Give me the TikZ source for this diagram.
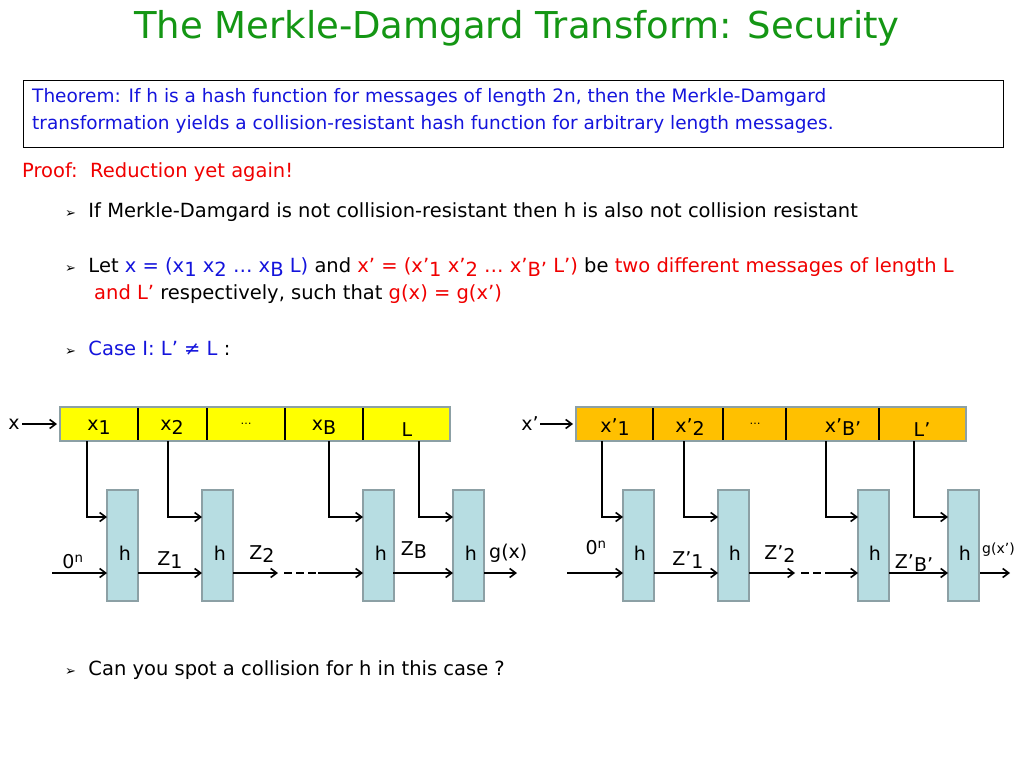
\documentclass[tikz,border=0pt]{standalone}
\usepackage{fontspec}
\setmainfont{DejaVu Sans}
\newfontfamily\symf{DejaVu Sans}
\usetikzlibrary{arrows.meta}
\definecolor{tgreen}{RGB}{20,150,20}
\definecolor{tblue}{RGB}{20,20,220}
\definecolor{tred}{RGB}{240,0,0}
\definecolor{hfill}{RGB}{183,221,226}
\definecolor{hdraw}{RGB}{140,160,165}
\definecolor{yelbar}{RGB}{255,255,0}
\definecolor{orbar}{RGB}{255,192,0}
\newcommand{\lo}[1]{\raisebox{-0.35ex}{#1}}
\newcommand{\bul}{{\symf\fontsize{13}{13}\selectfont ➢}}
\begin{document}
\begin{tikzpicture}[x=1pt,y=-1pt,
 hbox/.style={fill=hfill,draw=hdraw,line width=1.5pt},
 cell/.style={draw=hdraw,line width=1.5pt},
 arr/.style={-{Straight Barb[length=6pt,width=9pt]},line width=1.6pt},
 lab/.style={font=\fontsize{19}{19}\selectfont,inner sep=0pt},
 txt/.style={font=\fontsize{19.5}{26}\selectfont,anchor=west,inner sep=0pt}]
\useasboundingbox (0,0) rectangle (1024,768);
\node[font=\fontsize{37}{37}\selectfont,text=tgreen] (title) at (517,28) {The Merkle-Damgard Transform: Security};
\draw[line width=0.8pt] (23,80) rectangle (1003,147);
\node[txt,text=tblue,align=left,anchor=north west,font=\fontsize{18.5}{27}\selectfont] (thm) at (32,88) {Theorem: If h is a hash function for messages of length 2n, then the Merkle-Damgard\\transformation yields a collision-resistant hash function for arbitrary length messages.};
\node[txt,text=tred] (proof) at (22,172) {Proof:\ \ Reduction yet again!};
\node[txt] (b1) at (65,212) {\bul\ \ If Merkle-Damgard is not collision-resistant then h is also not collision resistant};
\node[txt] (b2) at (65,267) {\bul\ \ Let \textcolor{tblue}{x = (x\lo{1} x\lo{2} … x\lo{B} L)} and \textcolor{tred}{x’ = (x’\lo{1} x’\lo{2} … x’\lo{B’} L’)} be \textcolor{tred}{two different messages of length L}};
\node[txt] (b2b) at (94,294) {\textcolor{tred}{and L’} respectively, such that \textcolor{tred}{g(x) = g(x’)}};
\node[txt] (b3) at (65,348) {\bul\ \ \textcolor{tblue}{Case I: L’ {\symf ≠} L} :};
\node[txt] (b4) at (65,670) {\bul\ \ Can you spot a collision for h in this case ?};
% left
\fill[yelbar] (60,407) rectangle (450,441);
\draw[cell] (60,407) rectangle (450,441);
\foreach \d in {138,207,285,363} \draw[line width=2pt] (\d,408)--(\d,440);
\node[lab] (x1) at (99,427) {x\lo{1}};
\node[lab] (x2) at (172,427) {x\lo{2}};
\node[lab] (xd) at (246,424) {\fontsize{11}{11}\selectfont …};
\node[lab] (xB) at (324,427) {x\lo{B}};
\node[lab] (xL) at (407,430) {L};
\node[lab] (xin) at (14,424) {x};
\draw[arr] (22,424)--(57,424);
\foreach \a in {107,202,363,453} {\draw[hbox] (\a,490) rectangle +(31,111); \node[lab] at (\a+18,553) {h};}
\foreach \v/\a in {87/107,168/202,329/363,419/453} \draw[arr] (\v,441)--(\v,517)--(\a,517);
\draw[arr] (52,573)--(107,573);
\draw[arr] (138,573)--(202,573);
\draw[arr] (233,573)--(278,573);
\draw[line width=1.6pt,dash pattern=on 8pt off 4pt] (284,573)--(318,573);
\draw[arr] (318,573)--(363,573);
\draw[arr] (393,573)--(453,573);
\draw[arr] (484,573)--(517,573);
\node[lab] at (73,562) {0$^{\mathrm{n}}$};
\node[lab] at (170,560) {Z\lo{1}};
\node[lab] at (262,554) {Z\lo{2}};
\node[lab] at (414,550) {Z\lo{B}};
\node[lab,anchor=west] at (489,553) {g(x)};
% right
\fill[orbar] (576,407) rectangle (966,441);
\draw[cell] (576,407) rectangle (966,441);
\foreach \d in {653,723,786,879} \draw[line width=2pt] (\d,408)--(\d,440);
\node[lab] (y1) at (615,427) {x’\lo{1}};
\node[lab] (y2) at (690,427) {x’\lo{2}};
\node[lab] (yd) at (755,424) {\fontsize{11}{11}\selectfont …};
\node[lab] (yB) at (843,427) {x’\lo{B’}};
\node[lab] (yL) at (922,430) {L’};
\node[lab] (yin) at (530,424) {x’};
\draw[arr] (540,424)--(573,424);
\foreach \a in {623,718,858,948} {\draw[hbox] (\a,490) rectangle +(31,111); \node[lab] at (\a+17,553) {h};}
\foreach \v/\a in {602/623,684/718,826/858,914/948} \draw[arr] (\v,441)--(\v,517)--(\a,517);
\draw[arr] (567,573)--(623,573);
\draw[arr] (654,573)--(718,573);
\draw[arr] (749,573)--(795,573);
\draw[line width=1.6pt,dash pattern=on 8pt off 4pt] (801,573)--(830,573);
\draw[arr] (830,573)--(858,573);
\draw[arr] (889,573)--(948,573);
\draw[arr] (980,573)--(1010,573);
\node[lab] at (596,548) {0$^{\mathrm{n}}$};
\node[lab] at (688,560) {Z’\lo{1}};
\node[lab] at (780,554) {Z’\lo{2}};
\node[lab] at (914,563) {Z’\lo{B’}};
\node[lab,anchor=west,font=\fontsize{14}{14}\selectfont] at (982,550) {g(x’)};
\end{tikzpicture}
\end{document}
